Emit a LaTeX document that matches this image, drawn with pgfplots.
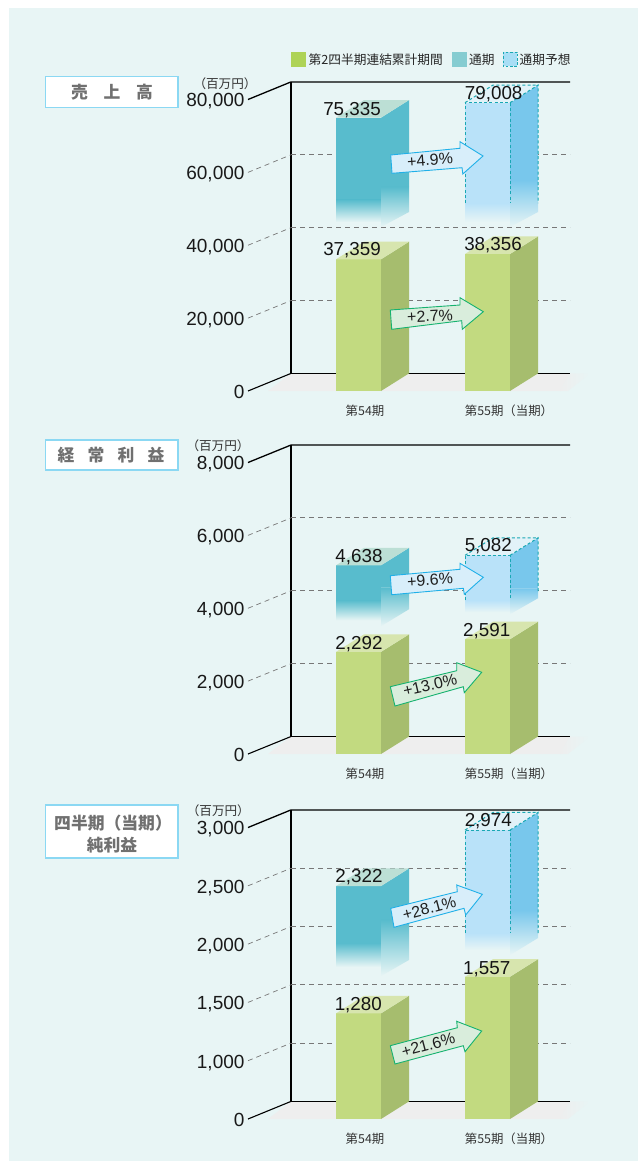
\documentclass[border=0pt]{standalone}
\usepackage{fontspec}
\usepackage{pgfplots}
\pgfplotsset{compat=1.18}
\setmainfont{Liberation Sans}
\newfontfamily\cjk{Noto Sans CJK JP}

\definecolor{panelbg}{HTML}{E8F5F5}
\definecolor{floorgray}{HTML}{EEEEEE}
\definecolor{gridgray}{HTML}{777777}
\definecolor{boxline}{HTML}{8BD8F3}
\definecolor{boxtext}{HTML}{707070}
\definecolor{gfront}{HTML}{C2DA80}
\definecolor{gside}{HTML}{A6BD6E}
\definecolor{gtop}{HTML}{D7E5AE}
\definecolor{cfront}{HTML}{58BCCD}
\definecolor{ctop}{HTML}{BCDFD5}
\definecolor{lfront}{HTML}{B9E2F9}
\definecolor{lside}{HTML}{78C7EC}
\definecolor{ltop}{HTML}{E2F2F8}
\definecolor{dashteal}{HTML}{1AA8B4}
\definecolor{legg}{HTML}{AED356}
\definecolor{legc}{HTML}{85CCD1}
\definecolor{legl}{HTML}{A8DEF5}
\definecolor{arrowb}{HTML}{20B0E8}
\definecolor{arrowbf}{HTML}{D8EEFA}
\definecolor{arrowg}{HTML}{16B26F}
\definecolor{arrowgf}{HTML}{D9EDDC}

% x data are pixel columns of the page, y data are the axis values.
% Bar heights; the printed figures go in the labels.
\pgfplotsset{panel/.style={
  width=390pt, height=291.5pt, scale only axis,
  xmin=248, xmax=638, ymin=0, clip=false,
  axis line style={draw=none}, tick style={draw=none}, major tick length=0pt,
  xtick={365,509}, xticklabels={第54期,第55期（当期）},
  x tick label style={font=\cjk\fontsize{12.4}{14}\selectfont, text=black!80, yshift=-10pt},
  y tick label style={font=\fontsize{19}{20}\selectfont, text=black!90, text height=13.6pt, text depth=0pt, yshift=-0.6pt},
  scaled y ticks=false,
  /pgf/number format/.cd, 1000 sep={,}, assume math mode=true,
}}

% \ybase is the value at the foot of the axis, \dy the depth of the floor in axis values
\newcommand{\wall}[1]{%
  \edef\yt{\fpeval{#1+\dy}}\edef\fl{\fpeval{\ybase+\dy}}%
  \addplot [draw=none, fill=floorgray] coordinates {(268,\ybase) (291,\fl) (570,\fl) (560,\ybase)} --cycle;
  \addplot [draw=none, left color=floorgray, right color=panelbg] coordinates {(560,\ybase) (570,\fl) (590,\fl) (568,\ybase)} --cycle;
  \addplot [black, line width=1.3pt] coordinates {(248,#1) (291,\yt) (570,\yt)};
  \addplot [black, line width=1.3pt] coordinates {(291,\yt) (291,\fl) (570,\fl)};
  \addplot [black, line width=1.1pt] coordinates {(248,\ybase) (291,\fl)};
}
\newcommand{\gridtick}[1]{%
  \edef\yg{\fpeval{#1+\dy}}%
  \addplot [gridgray, line width=0.7pt, dash pattern=on 5pt off 4pt] coordinates {(248,#1) (291,\yg)};
  \addplot [gridgray, line width=0.8pt, dash pattern=on 5pt off 4pt] coordinates {(291,\yg) (570,\yg)};
}
% left column, height, front, side, top colours
\newcommand{\solidbar}[5]{%
  \edef\xa{\fpeval{#1+45}}\edef\xb{\fpeval{#1+73}}\edef\xc{\fpeval{#1+28}}%
  \edef\yt{\fpeval{#2+\dy}}\edef\fl{\fpeval{\ybase+\dy}}%
  \addplot [draw=none, fill=#3] coordinates {(#1,\ybase) (\xa,\ybase) (\xa,#2) (#1,#2)} --cycle;
  \addplot [draw=none, fill=#4] coordinates {(\xa,\ybase) (\xb,\fl) (\xb,\yt) (\xa,#2)} --cycle;
  \addplot [draw=none, fill=#5] coordinates {(#1,#2) (\xa,#2) (\xb,\yt) (\xc,\yt)} --cycle;
}
% left column, height, front solid end, front end, side solid end,
% side end inner, side end outer, front, side colours
\newcommand{\fadebar}[9]{%
  \edef\xa{\fpeval{#1+45}}\edef\xb{\fpeval{#1+73}}\edef\xc{\fpeval{#1+28}}%
  \edef\yt{\fpeval{#2+\dy}}%
  \addplot [draw=none, fill=#8] coordinates {(#1,#3) (\xa,#3) (\xa,#2) (#1,#2)} --cycle;
  \addplot [draw=none, top color=#8, bottom color=panelbg] coordinates {(#1,#4) (\xa,#4) (\xa,#3) (#1,#3)} --cycle;
  \addplot [draw=none, fill=#9] coordinates {(\xa,#5) (\xb,#5) (\xb,\yt) (\xa,#2)} --cycle;
  \addplot [draw=none, top color=#9, bottom color=panelbg] coordinates {(\xa,#6) (\xb,#7) (\xb,#5) (\xa,#5)} --cycle;
}
% left column, height, colour (after \fadebar)
\newcommand{\fadetop}[3]{%
  \addplot [draw=none, fill=#3] coordinates {(#1,#2) (\xa,#2) (\xb,\yt) (\xc,\yt)} --cycle;
}
% left column, height, front end, side end: dashed outline of the forecast bar
\newcommand{\dashbar}[4]{%
  \edef\xa{\fpeval{#1+45}}\edef\xb{\fpeval{#1+73}}\edef\xc{\fpeval{#1+28}}%
  \edef\yt{\fpeval{#2+\dy}}%
  \addplot [dashteal, line width=1pt, dash pattern=on 3pt off 2.2pt] coordinates {(#1,#3) (#1,#2) (\xa,#2) (\xa,#3)};
  \addplot [dashteal, line width=1pt, dash pattern=on 3pt off 2.2pt] coordinates {(\xa,#2) (\xb,\yt) (\xb,#4)};
  \addplot [dashteal, line width=1pt, dash pattern=on 3pt off 2.2pt] coordinates {(#1,#2) (\xc,\yt) (\xb,\yt)};
}
\newcommand{\vallabel}[3]{\node [font=\fontsize{18.8}{20}\selectfont, text=black!92, inner sep=0pt, text height=13.5pt, text depth=0pt] at (#1,#2) {#3};}
\newcommand{\unitlabel}[2]{\node [font=\cjk\fontsize{12.6}{14}\selectfont, text=black!80, inner sep=0pt] at (#1,#2) {（百万円）};}
\newcommand{\arrowtag}[6]{% line, fill, outline, text x, text y, angle + text
  \draw [#1, fill=#2, line width=0.9pt, line join=miter] #3 -- cycle;
  \node [font=\fontsize{16}{18}\selectfont, text=black!88, inner sep=0pt, rotate=#5] at #4 {#6};
}

\begin{document}
\begin{tikzpicture}[x=1pt,y=1pt]
\path [fill=white] (0,0) rectangle (638,-1161);
\fill [panelbg] (9,-8) rectangle (638,-1161);

% first panel
\def\dy{4830}\def\ybase{0}
\begin{axis}[panel, at={(248pt,-391pt)}, anchor=south west, ymax=80000,
  ytick={0,20000,40000,60000,80000}]
\wall{80000}
\gridtick{20000}
\gridtick{40000}
\gridtick{60000}
\fadebar{336}{75010}{52420}{46380}{55990}{45010}{49120}{cfront}{cfront}
\fadetop{336}{75010}{ctop}
\fadebar{465}{79120}{51590}{46380}{57900}{45010}{49120}{lfront}{lside}
\fadetop{465}{79120}{ltop}
\dashbar{465}{79120}{51590}{51590}
\solidbar{336}{36140}{gfront}{gside}{gtop}
\solidbar{465}{37600}{gfront}{gside}{gtop}
\end{axis}

% second panel
\def\dy{480}\def\ybase{0}
\begin{axis}[panel, at={(248pt,-754pt)}, anchor=south west, ymax=8000,
  ytick={0,2000,4000,6000,8000}]
\wall{8000}
\gridtick{2000}
\gridtick{4000}
\gridtick{6000}
\fadebar{336}{5178}{4219}{3671}{4575}{3507}{3973}{cfront}{cfront}
\fadetop{336}{5178}{ctop}
\fadebar{465}{5452}{4219}{3890}{4548}{3836}{4274}{lfront}{lside}
\fadetop{465}{5452}{ltop}
\dashbar{465}{5452}{4219}{4440}
\solidbar{336}{2803}{gfront}{gside}{gtop}
\solidbar{465}{3151}{gfront}{gside}{gtop}
\end{axis}

% third panel: the original axis jumps from 0 straight to 1,000, one step below 1,000 is labelled 0
\def\dy{151}\def\ybase{500}
\begin{axis}[panel, at={(248pt,-1119pt)}, anchor=south west, ymin=500, ymax=3000,
  ytick={500,1000,1500,2000,2500,3000},
  yticklabels={0,{1,000},{1,500},{2,000},{2,500},{3,000}}]
\wall{3000}
\gridtick{1000}
\gridtick{1500}
\gridtick{2000}
\gridtick{2500}
\fadebar{336}{2498}{2009}{1804}{2207}{1726}{1864}{cfront}{cfront}
\fadetop{336}{2498}{ctop}
\fadebar{465}{2978}{2095}{1949}{2292}{1906}{2052}{lfront}{lside}
\fadetop{465}{2978}{ltop}
\dashbar{465}{2978}{2095}{2095}
\solidbar{336}{1406}{gfront}{gside}{gtop}
\solidbar{465}{1720}{gfront}{gside}{gtop}
\end{axis}

% labels, arrows and legend in page pixels
\begin{scope}[y=-1pt]
\vallabel{352}{108.3}{75,335}
\vallabel{493.7}{92.3}{79,008}
\vallabel{352}{249}{37,359}
\vallabel{493}{244}{38,356}
\vallabel{359}{556}{4,638}
\vallabel{488.3}{545}{5,082}
\vallabel{359}{642.3}{2,292}
\vallabel{486.7}{629.3}{2,591}
\vallabel{359}{876}{2,322}
\vallabel{488.3}{820}{2,974}
\vallabel{358.3}{1003.3}{1,280}
\vallabel{486.7}{967.3}{1,557}

\unitlabel{225}{84}
\unitlabel{218}{446}
\unitlabel{218.3}{811}

\arrowtag{arrowb}{arrowbf}{(390.7,155) -- (460,148.3) -- (460,141.7) -- (483,156) -- (462.8,174) -- (462,167.7) -- (392,173.3)}{(430,160)}{4}{+4.9\%}
\arrowtag{arrowg}{arrowgf}{(390.3,310) -- (460,305) -- (460,297.7) -- (483.3,311.7) -- (462.3,329.3) -- (461.7,320.7) -- (391.7,329.3)}{(430,316)}{3}{+2.7\%}
\arrowtag{arrowb}{arrowbf}{(390.3,575.7) -- (460,569.3) -- (460,563.3) -- (483.3,577.3) -- (464.3,594.3) -- (463.3,588.3) -- (391.7,594.7)}{(430,580)}{4}{+9.6\%}
\arrowtag{arrowg}{arrowgf}{(390.3,686.7) -- (456.7,670.7) -- (456.7,662.7) -- (481.7,672.3) -- (464.3,692.7) -- (463.3,686.7) -- (395,706)}{(430,685)}{13}{+13.0\%}
\arrowtag{arrowb}{arrowbf}{(390.7,908.3) -- (457.3,891.7) -- (456.7,885) -- (482.3,894.3) -- (465.7,915) -- (464,908.3) -- (394,927.3)}{(429.3,908.3)}{15}{+28.1\%}
\arrowtag{arrowg}{arrowgf}{(390.3,1045.7) -- (457.3,1027.7) -- (456.7,1021.3) -- (481.7,1031) -- (465,1051.7) -- (463.3,1045.7) -- (395,1064)}{(428.3,1045)}{15}{+21.6\%}

\draw [boxline, fill=white, line width=1.2pt] (45.7,76.7) rectangle (178,107.3);
\draw [boxline, fill=white, line width=1.2pt] (45.7,440) rectangle (178,470);
\draw [boxline, fill=white, line width=1.2pt] (45.7,805) rectangle (178,858);
\begin{scope}[every node/.style={font=\cjk\fontsize{16.8}{18}\selectfont\bfseries, text=boxtext, inner sep=0pt}]
\node at (79.4,92) {売};
\node at (112,92) {上};
\node at (144.5,92) {高};
\node at (66,455) {経};
\node at (96,455) {常};
\node at (126,455) {利};
\node at (156,455) {益};
\node at (113,823) {四半期（当期）};
\node at (112,845) {純利益};
\end{scope}

\fill [legg] (291,51.7) rectangle (306,66.7);
\fill [legc] (452,51.7) rectangle (467,66.7);
\draw [dashteal, fill=legl, line width=0.8pt, dash pattern=on 2.5pt off 1.8pt] (503,52) rectangle (517,66.5);
\begin{scope}[every node/.style={font=\cjk\fontsize{12.7}{14}\selectfont, text=black!85, inner sep=0pt, anchor=west}]
\node at (308.5,60) {第2四半期連結累計期間};
\node at (469,60) {通期};
\node at (519.5,60) {通期予想};
\end{scope}
\end{scope}
\path (0,0) rectangle (638,-1161);
\end{tikzpicture}
\end{document}
